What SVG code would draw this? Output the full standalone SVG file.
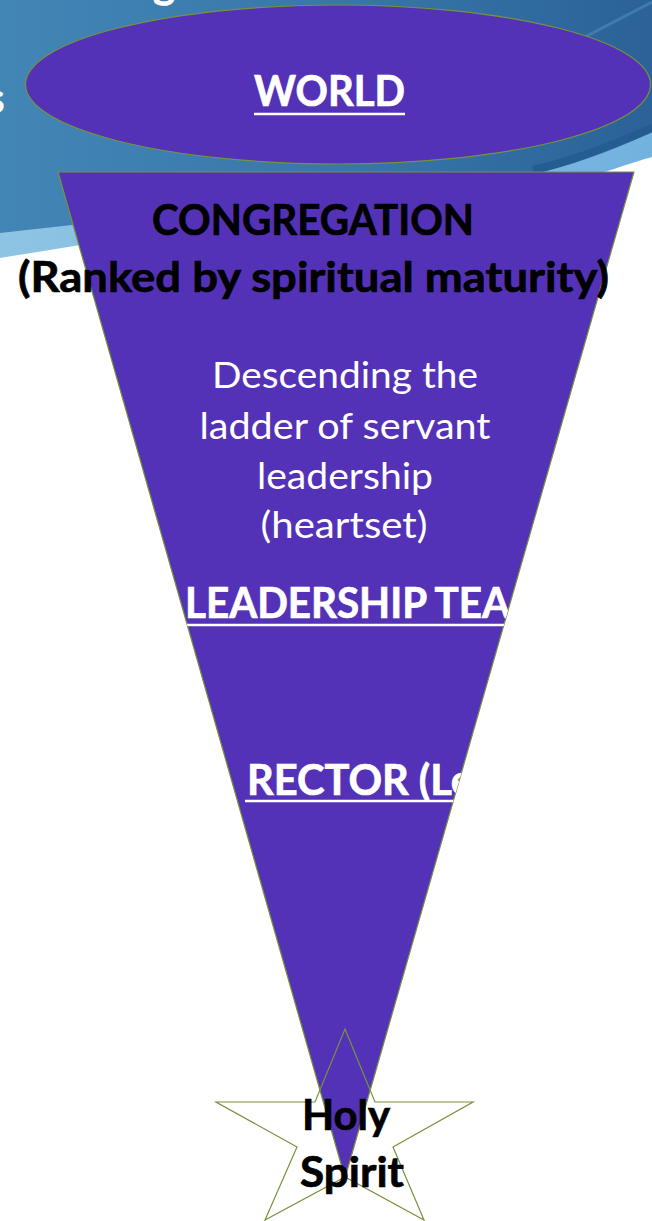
<svg xmlns="http://www.w3.org/2000/svg" width="652" height="1221" viewBox="0 0 652 1221">
<style>
.shape{fill:#5432B8;stroke:#77933C;stroke-width:1.2}
.bold{font-family:Lato,"Liberation Sans",sans-serif;font-weight:bold;font-size:42px;stroke-width:0.7}
.reg{font-family:Lato,"Liberation Sans",sans-serif;font-weight:normal;font-size:37px;fill:#ffffff}
.w{fill:#ffffff;stroke:#ffffff}
.k{fill:#000000;stroke:#000000}
.ul{stroke:#ffffff;stroke-width:2.5}
</style>
<defs>
<linearGradient id="bg" x1="0" y1="0" x2="1" y2="0">
<stop offset="0" stop-color="#4286b6"/>
<stop offset="0.55" stop-color="#3776a8"/>
<stop offset="1" stop-color="#2b6298"/>
</linearGradient>
<linearGradient id="band" x1="0" y1="0" x2="1" y2="0">
<stop offset="0" stop-color="#8ec4e3"/>
<stop offset="1" stop-color="#72b2de"/>
</linearGradient>
<clipPath id="tri">
<polygon points="58,172 634,172 345,1178"/>
</clipPath>
</defs>
<g id="background">
<rect x="0" y="0" width="652" height="1221" fill="#ffffff"/>
<path d="M0,0 H652 V157 C630,163 612,170 598,174 C420,195 200,225 0,258 Z" fill="url(#band)"/>
<path d="M0,0 H652 V132 C610,150 570,166 533,174 C380,196 180,212 0,233 Z" fill="url(#bg)"/>
<path d="M652,128 C610,147 570,162 533,170" fill="none" stroke="#235a8f" stroke-width="8" opacity="0.8"/>
<path d="M583,38 L652,2" fill="none" stroke="#5a98c8" stroke-width="3" opacity="0.45"/>
<text class="bold w" x="153" y="-2" font-size="40">g</text>
<text class="bold w" x="-14" y="113" font-size="40">s</text>
</g>
<g id="connectors"></g>
<g id="world">
<ellipse class="shape" cx="338" cy="84.5" rx="312.5" ry="79.5"/>
<text class="bold w" x="254" y="106" textLength="151" lengthAdjust="spacingAndGlyphs">WORLD</text>
<line class="ul" x1="254" y1="114" x2="405" y2="114"/>
</g>
<g id="funnel">
<polygon class="shape" points="58,172 634,172 345,1178"/>
</g>
<g id="congregation">
<text class="bold k" x="152" y="235" textLength="322" lengthAdjust="spacingAndGlyphs">CONGREGATION</text>
<text class="bold k" x="18" y="292" textLength="591" lengthAdjust="spacingAndGlyphs">(Ranked by spiritual maturity)</text>
</g>
<g id="descending">
<text class="reg" x="345" y="388" text-anchor="middle" textLength="266" lengthAdjust="spacingAndGlyphs">Descending the</text>
<text class="reg" x="345" y="439" text-anchor="middle" textLength="291" lengthAdjust="spacingAndGlyphs">ladder of servant</text>
<text class="reg" x="345" y="489" text-anchor="middle" textLength="176" lengthAdjust="spacingAndGlyphs">leadership</text>
<text class="reg" x="344" y="538" text-anchor="middle" textLength="167" lengthAdjust="spacingAndGlyphs">(heartset)</text>
</g>
<g id="leadership" clip-path="url(#tri)">
<text class="bold w" x="185" y="618" textLength="325" lengthAdjust="spacingAndGlyphs">LEADERSHIP TEA</text>
<line class="ul" x1="185" y1="625" x2="520" y2="625"/>
</g>
<g id="rector" clip-path="url(#tri)">
<text class="bold w" x="247" y="795" textLength="226" lengthAdjust="spacingAndGlyphs">RECTOR (Le</text>
<line class="ul" x1="245" y1="801" x2="480" y2="801"/>
</g>
<g id="holy-spirit">
<polygon points="345,1029 375,1102 473,1102 393,1147 424,1220 345,1177 265,1220 297,1147 216,1102 315,1102" fill="none" stroke="#77933C" stroke-width="1.2"/>
<text class="bold k" x="302" y="1130" textLength="88" lengthAdjust="spacingAndGlyphs">Holy</text>
<text class="bold k" x="300" y="1187" textLength="104" lengthAdjust="spacingAndGlyphs">Spirit</text>
</g>
</svg>
